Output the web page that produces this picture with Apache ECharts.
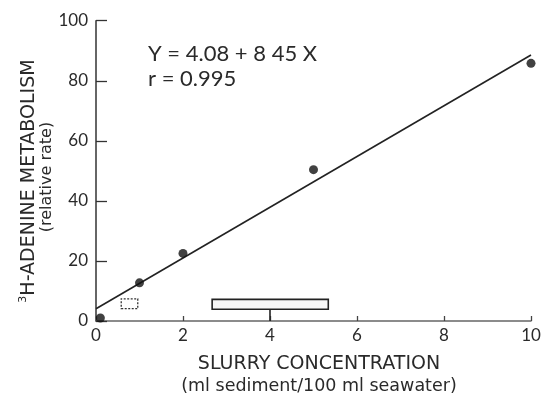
<!DOCTYPE html>
<html>
<head>
<meta charset="utf-8">
<script src="https://cdn.jsdelivr.net/npm/echarts@6/dist/echarts.min.js"></script>
<style>html,body{margin:0;padding:0;background:#fff}#c{width:546px;height:398px}</style>
</head>
<body>
<div id="c"></div>
<script>
var ptsX = [0.1, 1.0, 2.0, 5.0, 10.0];
var ptsY = [1.0, 12.7, 22.5, 50.4, 85.8];
var fitX = [0, 10];
var fitY = [4.08, 88.58];
var xTicks = [0, 2, 4, 6, 8, 10];
var yTicks = [0, 20, 40, 60, 80, 100];
var boxSmall = [[0.58, 4.1], [0.96, 7.4]];
var boxLarge = [[2.67, 3.9], [5.34, 7.2]];
var stemX = 4.0, stemTop = 3.9;

var NUMFONT = 'Lato';
var TFONT = 'DejaVu Sans';
var TXT = '#2a2a2a';
var chart = echarts.init(document.getElementById('c'));
chart.setOption({
  animation: false,
  backgroundColor: '#fff',
  grid: {left: 96, right: 15, top: 20.7, bottom: 77, containLabel: false},
  xAxis: {
    type: 'value', min: 0, max: 10, interval: 2,
    axisLine: {show: true, lineStyle: {color: '#666', width: 1.5}},
    axisTick: {show: true, inside: true, length: 5, lineStyle: {color: '#444', width: 1.3}},
    splitLine: {show: false},
    axisLabel: {color: TXT, fontFamily: NUMFONT, fontSize: 17, margin: 6,
      formatter: function (v) { return xTicks.indexOf(v) >= 0 ? String(v) : ''; }}
  },
  yAxis: {
    type: 'value', min: 0, max: 100, interval: 20,
    axisLine: {show: true, lineStyle: {color: '#333', width: 1.5}},
    axisTick: {show: true, inside: true, length: 11, lineStyle: {color: '#333', width: 1.3}},
    splitLine: {show: false},
    axisLabel: {color: TXT, fontFamily: NUMFONT, fontSize: 17, margin: 8,
      formatter: function (v) { return yTicks.indexOf(v) >= 0 ? String(v) : ''; }}
  },
  graphic: [
    {type: 'text', left: 148, top: 43, style: {text: 'Y = 4.08 + 8 45 X', fontFamily: NUMFONT, fontSize: 22, fill: TXT}},
    {type: 'text', left: 148, top: 68, style: {text: 'r = 0.995', fontFamily: NUMFONT, fontSize: 22, fill: TXT}},
    {type: 'text', x: 319, y: 364, style: {text: 'SLURRY CONCENTRATION', fontFamily: TFONT, fontSize: 19, fill: TXT, align: 'center', verticalAlign: 'middle'}},
    {type: 'text', x: 319, y: 386, style: {text: '(ml sediment/100 ml seawater)', fontFamily: TFONT, fontSize: 17.5, fill: TXT, align: 'center', verticalAlign: 'middle'}},
    {type: 'text', x: 29, y: 181, rotation: Math.PI / 2, style: {
      text: '{s|3}{a|H-ADENINE METABOLISM}', align: 'center', verticalAlign: 'middle',
      rich: {
        s: {fontFamily: TFONT, fontSize: 11, fill: TXT, verticalAlign: 'top', lineHeight: 22},
        a: {fontFamily: TFONT, fontSize: 19, fill: TXT, lineHeight: 22}
      }}},
    {type: 'text', x: 47, y: 177, rotation: Math.PI / 2, style: {text: '(relative rate)', fontFamily: TFONT, fontSize: 16, fill: TXT, align: 'center', verticalAlign: 'middle'}}
  ],
  series: [
    {
      type: 'line', data: fitX.map(function (x, i) { return [x, fitY[i]]; }),
      showSymbol: false, symbol: 'none', lineStyle: {color: '#222', width: 1.6}, z: 2,
      markArea: {
        silent: true,
        data: [
          [{coord: boxSmall[0], itemStyle: {color: '#fff', borderColor: '#333', borderWidth: 1.3, borderType: [2, 1.5]}}, {coord: boxSmall[1]}],
          [{coord: boxLarge[0], itemStyle: {color: '#f6f6f6', borderColor: '#222', borderWidth: 1.6}}, {coord: boxLarge[1]}]
        ]
      },
      markLine: {
        silent: true, symbol: 'none', label: {show: false},
        lineStyle: {color: '#222', width: 1.6, type: 'solid'},
        data: [[{coord: [stemX, 0]}, {coord: [stemX, stemTop]}]]
      }
    },
    {
      type: 'scatter', data: ptsX.map(function (x, i) { return [x, ptsY[i]]; }),
      symbol: 'circle', symbolSize: 9, itemStyle: {color: '#111'}, z: 3
    }
  ]
});
</script>
</body>
</html>
